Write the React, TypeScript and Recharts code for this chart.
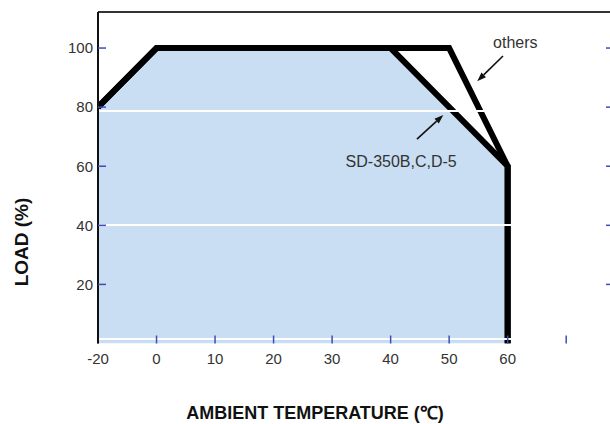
import React from 'react';
import {
  ComposedChart,
  Area,
  Line,
  XAxis,
  YAxis,
  ReferenceLine,
  ReferenceDot,
} from 'recharts';

// derating curves, ambient temperature (°C) vs load (%)
const sdTemps = [-20, 0, 40, 60, 60];
const sdLoads = [80, 100, 100, 60, 0];
const othersTemps = [-20, 0, 50, 60, 60];
const othersLoads = [80, 100, 100, 60, 0];

const xTickTemps = [-20, 0, 10, 20, 30, 40, 50, 60, 70];
const xTickLabels = ['-20', '0', '10', '20', '30', '40', '50', '60', ''];
const yTicks = [20, 40, 60, 80, 100];

const Y_MAX = 112.2;
const X_MIN = -10;
const X_MAX = 76.8;

// the chart squeezes -20..0 into half the width of a normal 20 degree step
const axisPos = (t: number) => (t < 0 ? t / 2 : t);

const sdData = sdTemps.map((t, i) => ({ x: axisPos(t), y: sdLoads[i] }));
const othersData = othersTemps.map((t, i) => ({ x: axisPos(t), y: othersLoads[i] }));
const xTicks = xTickTemps.map(axisPos);

const FILL = '#c9def2';
const TICK_BLUE = '#3d4fb5';
const TEXT = '#333';
const FONT = '"Liberation Sans", Arial, sans-serif';

const Arrow = (p: any) => {
  const { x1, y1, x2, y2 } = p;
  const ang = Math.atan2(y2 - y1, x2 - x1);
  const len = 9;
  const half = 3.2;
  const bx = x2 - len * Math.cos(ang);
  const by = y2 - len * Math.sin(ang);
  const px = -Math.sin(ang) * half;
  const py = Math.cos(ang) * half;
  return (
    <g>
      <line x1={x1} y1={y1} x2={bx} y2={by} stroke="#111" strokeWidth={1.6} />
      <polygon
        points={`${x2},${y2} ${bx + px},${by + py} ${bx - px},${by - py}`}
        fill="#111"
      />
    </g>
  );
};

export default function App() {
  return (
    <div style={{ position: 'absolute', left: 0, top: 0, width: 610, height: 424, background: '#fff' }}>
      <ComposedChart
        width={610}
        height={424}
        margin={{ top: 12, right: 0, bottom: 30.5, left: 0 }}
        style={{ fontFamily: FONT }}
      >
        <XAxis
          type="number"
          dataKey="x"
          domain={[X_MIN, X_MAX]}
          ticks={xTicks}
          tickFormatter={(v: number) => xTickLabels[xTicks.indexOf(v)] ?? ''}
          allowDataOverflow
          axisLine={false}
          tickSize={-8}
          tickMargin={18}
          tickLine={{ stroke: TICK_BLUE, strokeWidth: 1.5 }}
          tick={{ fill: TEXT, fontSize: 15, fontFamily: FONT }}
          height={50}
          interval={0}
        />
        <YAxis
          type="number"
          domain={[0, Y_MAX]}
          ticks={yTicks}
          allowDataOverflow
          width={98}
          axisLine={{ stroke: '#111', strokeWidth: 2 }}
          tickSize={-8}
          tickMargin={13}
          tickLine={{ stroke: TICK_BLUE, strokeWidth: 1.5 }}
          tick={{ fill: TEXT, fontSize: 15, fontFamily: FONT }}
          interval={0}
        />
        <YAxis
          yAxisId="r"
          orientation="right"
          type="number"
          domain={[0, Y_MAX]}
          ticks={yTicks}
          allowDataOverflow
          width={4}
          axisLine={false}
          tickSize={4}
          tickFormatter={() => ''}
          tick={{ fontSize: 1 }}
          tickLine={{ stroke: TICK_BLUE, strokeWidth: 1.5 }}
          interval={0}
        />
        <Area
          yAxisId="r"
          data={sdData}
          dataKey="y"
          type="linear"
          fill={FILL}
          fillOpacity={1}
          stroke="none"
          isAnimationActive={false}
        />
        <Line
          data={othersData}
          dataKey="y"
          type="linear"
          stroke="#000"
          strokeWidth={6}
          strokeLinejoin="miter"
          dot={false}
          activeDot={false}
          isAnimationActive={false}
        />
        <Line
          data={sdData}
          dataKey="y"
          type="linear"
          stroke="#000"
          strokeWidth={6}
          strokeLinejoin="miter"
          dot={false}
          activeDot={false}
          isAnimationActive={false}
        />
        {/* top frame, runs to the page edge */}
        <ReferenceLine
          segment={[{ x: X_MIN, y: Y_MAX }, { x: X_MAX + 0.7, y: Y_MAX }]}
          stroke="#333"
          strokeWidth={2}
          ifOverflow="visible"
        />
        {/* white scan streaks across the plot */}
        <ReferenceLine
          segment={[{ x: -13.6, y: 78.7 }, { x: 56.5, y: 78.7 }]}
          stroke="#fff"
          strokeWidth={2}
          ifOverflow="visible"
        />
        <ReferenceLine
          segment={[{ x: -13.6, y: 40.1 }, { x: 61.8, y: 40.1 }]}
          stroke="#fff"
          strokeWidth={2}
          ifOverflow="visible"
        />
        <ReferenceLine
          segment={[{ x: -10, y: 1.5 }, { x: 61.8, y: 1.5 }]}
          stroke="#fff"
          strokeWidth={2}
          ifOverflow="visible"
        />
        {/* annotation arrows */}
        <ReferenceLine
          segment={[{ x: 59.2, y: 97.3 }, { x: 54.8, y: 88.8 }]}
          shape={Arrow}
          ifOverflow="visible"
        />
        <ReferenceLine
          segment={[{ x: 44.5, y: 69.2 }, { x: 49.0, y: 77.3 }]}
          shape={Arrow}
          ifOverflow="visible"
        />
        <ReferenceDot
          x={61.3}
          y={102}
          r={0.5}
          fill="none"
          stroke="none"
          ifOverflow="visible"
          label={{ value: 'others', position: 'center', fill: TEXT, fontSize: 16, fontFamily: FONT }}
        />
        <ReferenceDot
          x={41.8}
          y={61.8}
          r={0.5}
          fill="none"
          stroke="none"
          ifOverflow="visible"
          label={{ value: 'SD-350B,C,D-5', position: 'center', fill: TEXT, fontSize: 16, fontFamily: FONT }}
        />
        <text
          x={28}
          y={242}
          transform="rotate(-90, 28, 242)"
          textAnchor="middle"
          fontSize={19}
          fontWeight="bold"
          fill="#111"
          fontFamily={FONT}
        >
          LOAD (%)
        </text>
        <text
          x={315}
          y={419}
          textAnchor="middle"
          fontSize={18}
          fontWeight="bold"
          fill="#111"
          fontFamily={FONT}
        >
          AMBIENT TEMPERATURE (℃)
        </text>
      </ComposedChart>
    </div>
  );
}
